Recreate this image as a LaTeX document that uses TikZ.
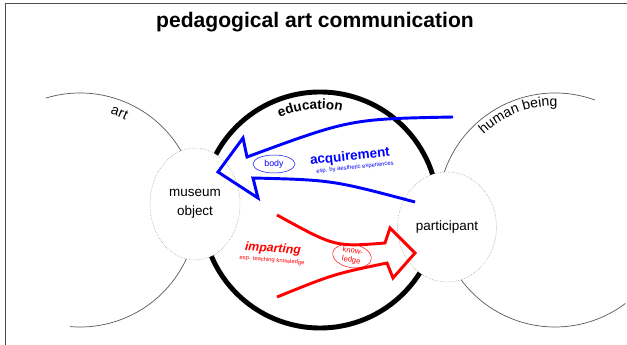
\documentclass[tikz,border=0pt]{standalone}
\usepackage{fontspec}
\setmainfont{Liberation Sans}
\usepackage{xcolor}
\usepackage{tikz}
\usetikzlibrary{shapes.geometric,decorations.text}

\begin{document}
\begin{tikzpicture}[x=0.03cm,y=0.03cm,
  world/.style={gray!70!black,line width=0.6pt},
  spot/.style={ellipse,draw=gray,densely dotted,fill=white,minimum width=2.7cm,align=center,font=\fontsize{11.5}{16}\selectfont},
  tag/.style={ellipse,draw,line width=0.4pt,inner sep=0pt,align=center}]
\useasboundingbox (0,0) rectangle (627,345);
\draw[gray!60!black][line width=1pt] (5.5,0) -- (5.5,341.5) -- (627,341.5);
\node (title) at (315,317) [anchor=base,font=\fontsize{18}{20}\selectfont\bfseries] {pedagogical art communication};

\coordinate (art) at (80,135);
\coordinate (edu) at (320,135);
\coordinate (human) at (555,135);
\draw[world] (art) ++(107:117) arc[start angle=107,end angle=-95,radius=117];
\draw[world] (human) ++(70:117) arc[start angle=70,end angle=307,radius=117];
\draw[line width=4.2pt] (edu) circle[radius=118];

\path[decorate,decoration={text along path,text align=center,text={|\fontsize{12}{14}\selectfont|art}}] (art) ++(100:101) arc[start angle=100,end angle=36,radius=101];
\path[decorate,decoration={text along path,text align=center,text={|\fontsize{11.5}{13}\selectfont\bfseries|education}}] (edu) ++(135:101) arc[start angle=135,end angle=56,radius=101];
\path[decorate,decoration={text along path,text align=center,text={|\fontsize{12}{14}\selectfont|human being}}] (human) ++(150:104) arc[start angle=150,end angle=72,radius=104];

\node (museum) at (195,141) [spot,minimum height=3.36cm] {museum\\object};
\node (participant) at (447,118) [spot,minimum height=3.3cm] {participant};

\draw[blue][line width=2.5pt] (453,228) .. controls (350,226) .. (247,188) -- (243,207) -- (218,173) -- (258,147) -- (253,167) .. controls (332,165) .. (415,143);
\draw[red][line width=2.5pt] (277,130) .. controls (335,98) .. (385,102) -- (390,117) -- (415,92) -- (393,67) -- (387,82) .. controls (334,71) .. (277,48);

\node (acquire) at (350,188) [rotate=6,blue,font=\fontsize{11.5}{13}\selectfont\bfseries] {acquirement};
\node (acquirenote) at (355,177.5) [rotate=6,blue,font=\fontsize{5}{6}\selectfont] {esp. by aesthetic experiences};
\node (impart) at (273,96) [rotate=-4,red,font=\fontsize{10.5}{12}\selectfont\bfseries\itshape] {imparting};
\node (impartnote) at (272,84.5) [rotate=-5,red,font=\fontsize{5}{6}\selectfont] {esp. teaching knowledge};
\node (body) at (274,181) [tag,blue,minimum width=1.26cm,minimum height=0.54cm,font=\fontsize{7.5}{9}\selectfont] {body};
\node (knowledge) at (352,89) [tag,red,rotate=-10,minimum width=1.17cm,minimum height=0.69cm,font=\fontsize{6.5}{8}\selectfont] {know-\\ledge};
\end{tikzpicture}
\end{document}
